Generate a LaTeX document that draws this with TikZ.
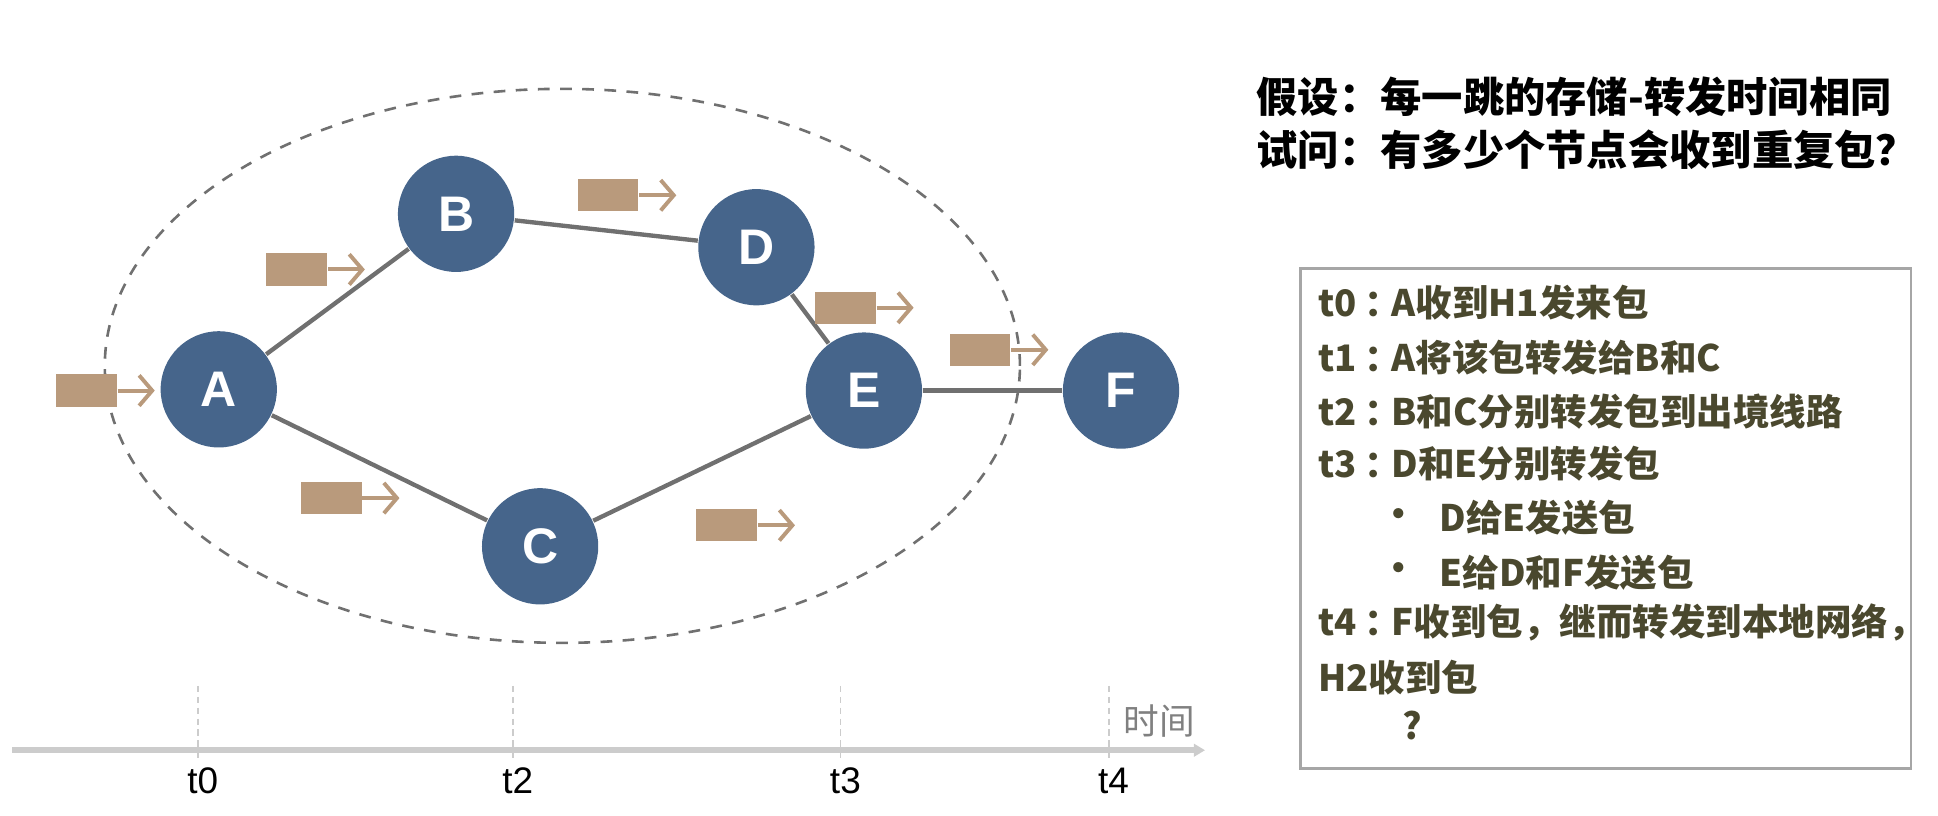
\documentclass[tikz,border=0pt]{standalone}
\usepackage{fontspec}
\setmainfont{Liberation Sans}
\newfontfamily\cjk{Noto Sans CJK SC}
\usetikzlibrary{arrows.meta}
\definecolor{nodeblue}{RGB}{70,101,139}
\definecolor{pkttan}{RGB}{185,154,124}
\definecolor{edgegray}{RGB}{112,112,112}
\definecolor{olivetext}{RGB}{74,72,46}
\definecolor{axisgray}{RGB}{204,204,204}
\newcommand{\tcolon}{\hspace{0.2em}：\hspace{-0.25em}}
\tikzset{
  nd/.style={circle,fill=nodeblue,minimum size=0.94cm,inner sep=0pt,text=white,font=\bfseries\fontsize{11.5}{12}\selectfont},
  pkt/.style={rectangle,fill=pkttan,minimum width=0.49cm,minimum height=0.26cm,inner sep=0pt},
  pktarr/.style={pkttan,line width=0.9pt,-{Straight Barb[length=3pt,width=7pt]}},
  lnk/.style={edgegray,line width=1pt},
  ln/.style={anchor=west,inner sep=0pt,text=olivetext,font=\cjk\bfseries\fontsize{8.4}{10}\selectfont},
  hd/.style={anchor=west,inner sep=0pt,font=\cjk\bfseries\fontsize{9.5}{11}\selectfont},
}
\begin{document}
\begin{tikzpicture}[x=0.01cm,y=-0.01cm]
\useasboundingbox (0,0) rectangle (1568,660);
\draw[edgegray,line width=0.6pt,dash pattern=on 2.7pt off 2.4pt](455,296) ellipse [x radius=3.7cm,y radius=2.24cm];
%
\node[nd](A) at (177,315){A};
\node[nd](B) at (369,173){B};
\node[nd](D) at (612,200){D};
\node[nd](E) at (699,316){E};
\node[nd](F) at (907,316){F};
\node[nd](C) at (437,442){C};
\draw[lnk](A)--(B);
\draw[lnk](A)--(C);
\draw[lnk](B)--(D);
\draw[lnk](D)--(E);
\draw[lnk](C)--(E);
\draw[lnk](E)--(F);
%
\foreach \n/\x/\y in {p1/70/316,p2/240/218,p3/492/158,p4/684/249,p5/793/283,p6/268/403,p7/588/425}{
  \node[pkt](\n) at (\x,\y){};
  \draw[pktarr](\n.east)--++(30,0);
}
%
\coordinate(t0) at (10,607);
\coordinate(tend) at (975,607);
\draw[axisgray,line width=1.3pt,-{Triangle[length=0.09cm,width=0.1cm]}](t0)--(tend);
\foreach \x/\t in {160/t0,415/t2,680/t3,897/t4}{
  \coordinate(k\t) at (\x,555);
  \draw[axisgray,line width=0.4pt,dash pattern=on 1.5pt off 1pt](k\t)--++(0,58);
  \node[font=\fontsize{8.5}{10}\selectfont](l\t) at (\x+4,632){\t};
}
\node[text=gray,font=\cjk\fontsize{8.2}{10}\selectfont](time) at (938,583){时间};
%
\node[hd](q1) at (1016,78){假设：每一跳的存储-转发时间相同};
\node[hd](q2) at (1016,121){试问：有多少个节点会收到重复包？};
%
\draw[gray!70,line width=0.6pt](1052,217) rectangle (1546,622);
\node[ln](s0) at (1066,245){t0\tcolon A收到H1发来包};
\node[ln](s1) at (1066,289){t1\tcolon A将该包转发给B和C};
\node[ln](s2) at (1066,333){t2\tcolon B和C分别转发包到出境线路};
\node[ln](s3) at (1066,375){t3\tcolon D和E分别转发包};
\node[ln](b1) at (1116,419){•};
\node[ln](s4) at (1164,419){D给E发送包};
\node[ln](b2) at (1116,463){•};
\node[ln](s5) at (1164,463){E给D和F发送包};
\node[ln](s6) at (1066,504){t4\tcolon F收到包，继而转发到本地网络，};
\node[ln](s7) at (1066,548){H2收到包};
\node[ln](s8) at (1134,587){?};
\end{tikzpicture}
\end{document}
